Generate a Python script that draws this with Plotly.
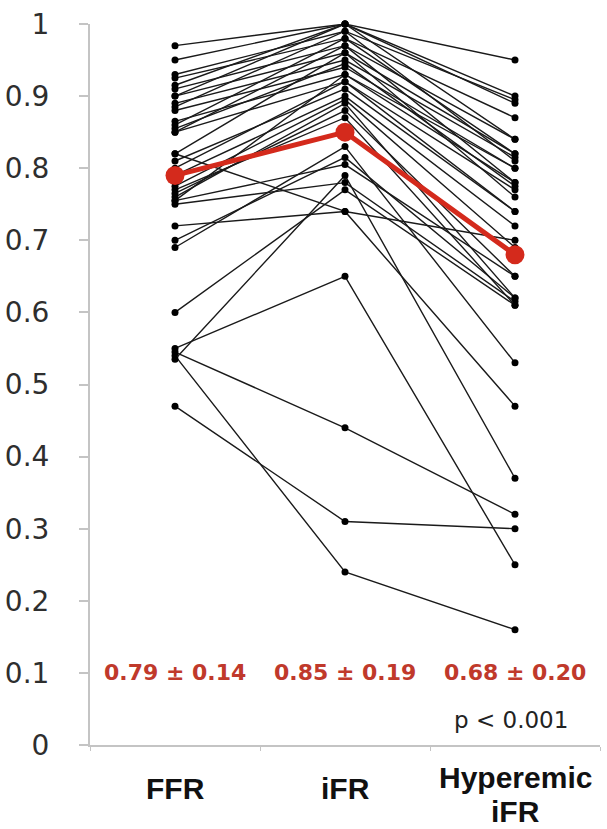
import plotly.graph_objects as go

categories = ["FFR", "iFR", "Hyperemic iFR"]
label_lines = [["FFR"], ["iFR"], ["Hyperemic", "iFR"]]

# per-patient values
ffr = [0.54, 0.47, 0.545, 0.55, 0.535, 0.60, 0.72, 0.82, 0.69, 0.70, 0.755, 0.75,
       0.97, 0.95, 0.93, 0.925, 0.915, 0.91, 0.90, 0.89, 0.885, 0.88, 0.865, 0.855,
       0.85, 0.82, 0.81, 0.79, 0.775, 0.765, 0.755, 0.90, 0.86, 0.85, 0.76, 0.77, 0.80]
ifr = [0.24, 0.31, 0.44, 0.65, 0.79, 0.77, 0.74, 0.74, 0.83, 0.815, 0.805, 0.78,
       1.00, 1.00, 0.99, 0.98, 1.00, 0.97, 0.96, 0.95, 0.99, 0.94, 0.93, 0.945,
       0.92, 0.96, 0.91, 0.90, 0.895, 0.88, 0.93, 1.00, 0.98, 0.97, 0.89, 0.87, 0.92]
hyp = [0.16, 0.30, 0.32, 0.25, 0.37, 0.61, 0.70, 0.47, 0.53, 0.62, 0.65, 0.615,
       0.95, 0.90, 0.895, 0.87, 0.89, 0.84, 0.82, 0.815, 0.81, 0.80, 0.78, 0.775,
       0.77, 0.76, 0.74, 0.72, 0.69, 0.65, 0.80, 0.84, 0.82, 0.78, 0.62, 0.61, 0.74]

means = [0.79, 0.85, 0.68]
sds = [0.14, 0.19, 0.20]
p_text = "p < 0.001"

y_ticks = [0, 0.1, 0.2, 0.3, 0.4, 0.5, 0.6, 0.7, 0.8, 0.9, 1]
y_ticktext = ["0", "0.1", "0.2", "0.3", "0.4", "0.5", "0.6", "0.7", "0.8", "0.9", "1"]

fig = go.Figure()

for a, b, c in zip(ffr, ifr, hyp):
    fig.add_trace(go.Scatter(
        x=categories, y=[a, b, c], mode="lines+markers",
        line=dict(color="#1a1a1a", width=1.4),
        marker=dict(color="#000000", size=7),
        cliponaxis=False, showlegend=False, hoverinfo="skip"))

fig.add_trace(go.Scatter(
    x=categories, y=means, mode="lines+markers",
    line=dict(color="#d42a1c", width=5),
    marker=dict(color="#d42a1c", size=19),
    cliponaxis=False, showlegend=False))

PLOT_TOP = 24
PLOT_BOTTOM = 745
H = PLOT_BOTTOM - PLOT_TOP

def py(pix):
    return (PLOT_BOTTOM - pix) / H

annotations = []
for cat, m, s in zip(categories, means, sds):
    annotations.append(dict(
        x=cat, y=0.1, xref="x", yref="y", text=f"{m:.2f} ± {s:.2f}",
        showarrow=False, xanchor="center", yanchor="middle",
        font=dict(family="DejaVu Sans", size=22, color="#c0392b", weight="bold")))

annotations.append(dict(
    x=categories[2], y=py(720), xref="x", yref="paper", text=p_text,
    showarrow=False, xanchor="center", yanchor="middle", xshift=-4,
    font=dict(family="DejaVu Sans", size=23, color="#222222")))

label_y = {1: [788], 2: [777, 811]}
for cat, lines in zip(categories, label_lines):
    ys = label_y[len(lines)]
    for t, ypix in zip(lines, ys):
        annotations.append(dict(
            x=cat, y=py(ypix), xref="x", yref="paper", text=t,
            showarrow=False, xanchor="center", yanchor="middle",
            font=dict(family="Liberation Sans", size=30, color="#111111", weight="bold")))

fig.update_layout(
    width=607, height=829,
    margin=dict(l=90, r=7, t=PLOT_TOP, b=829 - PLOT_BOTTOM),
    paper_bgcolor="white", plot_bgcolor="white",
    annotations=annotations,
    xaxis=dict(
        type="category", categoryorder="array", categoryarray=categories,
        range=[-0.5, 2.5], showgrid=False, zeroline=False, automargin=False,
        showline=True, linecolor="#c4c4c4", linewidth=2,
        showticklabels=False, ticks="outside", tickson="boundaries",
        ticklen=4, tickcolor="#c4c4c4"),
    yaxis=dict(
        range=[0, 1], tickvals=y_ticks, ticktext=y_ticktext,
        showgrid=False, zeroline=False, automargin=False,
        showline=True, linecolor="#c4c4c4", linewidth=2,
        ticks="outside", ticklen=9, tickcolor="#c4c4c4", tickwidth=1.5,
        ticklabelstandoff=24,
        tickfont=dict(family="DejaVu Sans", size=28, color="#2e2e2e")),
)

fig.write_html(
    "out.html",
    config={"displayModeBar": False},
    post_script="document.body.style.margin='0';document.body.style.overflow='hidden';")
